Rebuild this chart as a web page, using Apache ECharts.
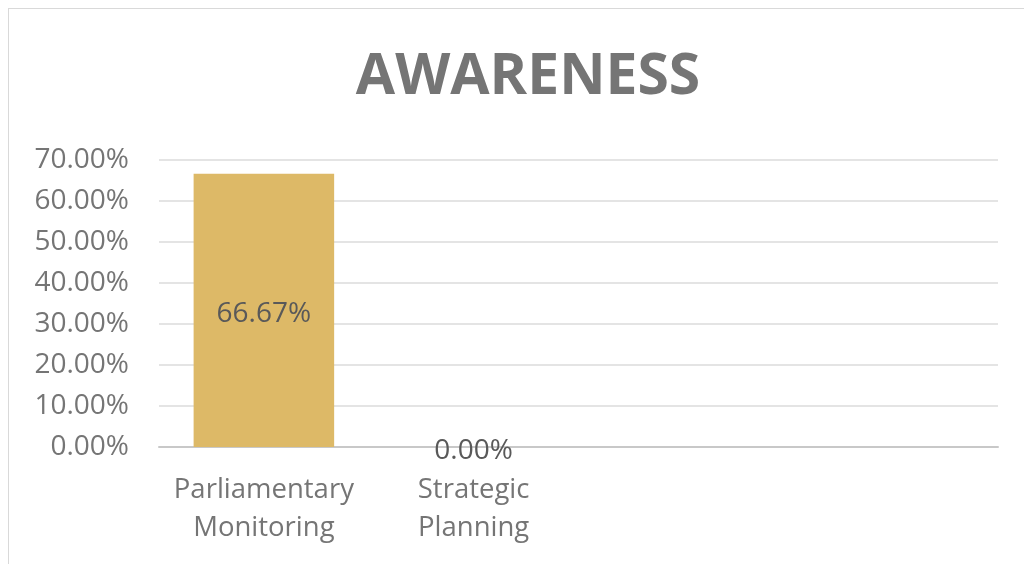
<!DOCTYPE html>
<html>
<head>
<meta charset="utf-8">
<script src="https://cdn.jsdelivr.net/npm/echarts@6/dist/echarts.min.js"></script>
<style>
  html, body { margin: 0; padding: 0; background: #fff; }
  #frame { position: absolute; left: 8px; top: 8px; width: 1040px; height: 580px; border: 1px solid #d9d9d9; }
  #myChart { position: absolute; left: 0; top: 0; width: 1024px; height: 564px; }
</style>
</head>
<body>
<div id="frame"></div>
<div id="myChart"></div>
<script>
// categories (last two slots are empty in the source chart)
const categories = ['Parliamentary\nMonitoring', 'Strategic\nPlanning', '', '']
// awareness values in percent
const awareness = [66.67, 0, '-', '-']
const yTicks = { min: 0, max: 70, interval: 10 }

let myChart = echarts.init(document.getElementById('myChart'))
myChart.setOption({
  title: {
    text: 'AWARENESS',
    left: 523,
    top: 44,
    textAlign: 'center',
    textStyle: {
      fontFamily: 'Open Sans',
      fontWeight: 'bold',
      fontSize: 57,
      color: '#757575',
    },
  },
  grid: {
    left: 159,
    right: 26,
    top: 160,
    bottom: 117,
  },
  xAxis: {
    type: 'category',
    data: categories,
    axisTick: { show: false },
    axisLine: { lineStyle: { color: '#c8c8c8', width: 2 } },
    axisLabel: {
      fontFamily: 'Open Sans',
      fontSize: 27.5,
      lineHeight: 38,
      color: '#757575',
      margin: 24,
      interval: 0,
    },
  },
  yAxis: {
    type: 'value',
    min: yTicks.min,
    max: yTicks.max,
    interval: yTicks.interval,
    axisLine: { show: false },
    axisTick: { show: false },
    splitLine: { lineStyle: { color: '#e4e4e4', width: 2 } },
    axisLabel: {
      fontFamily: 'Open Sans',
      fontSize: 28,
      color: '#757575',
      margin: 30,
      formatter: (v) => v.toFixed(2) + '%',
    },
  },
  series: [
    {
      type: 'bar',
      data: awareness,
      barWidth: '67%',
      itemStyle: { color: '#DDB967' },
      label: {
        show: true,
        position: 'inside',
        offset: [0, 4],
        fontFamily: 'Open Sans',
        fontSize: 28,
        color: '#595959',
        formatter: (p) => p.value.toFixed(2) + '%',
      },
    },
  ],
})
</script>
</body>
</html>
